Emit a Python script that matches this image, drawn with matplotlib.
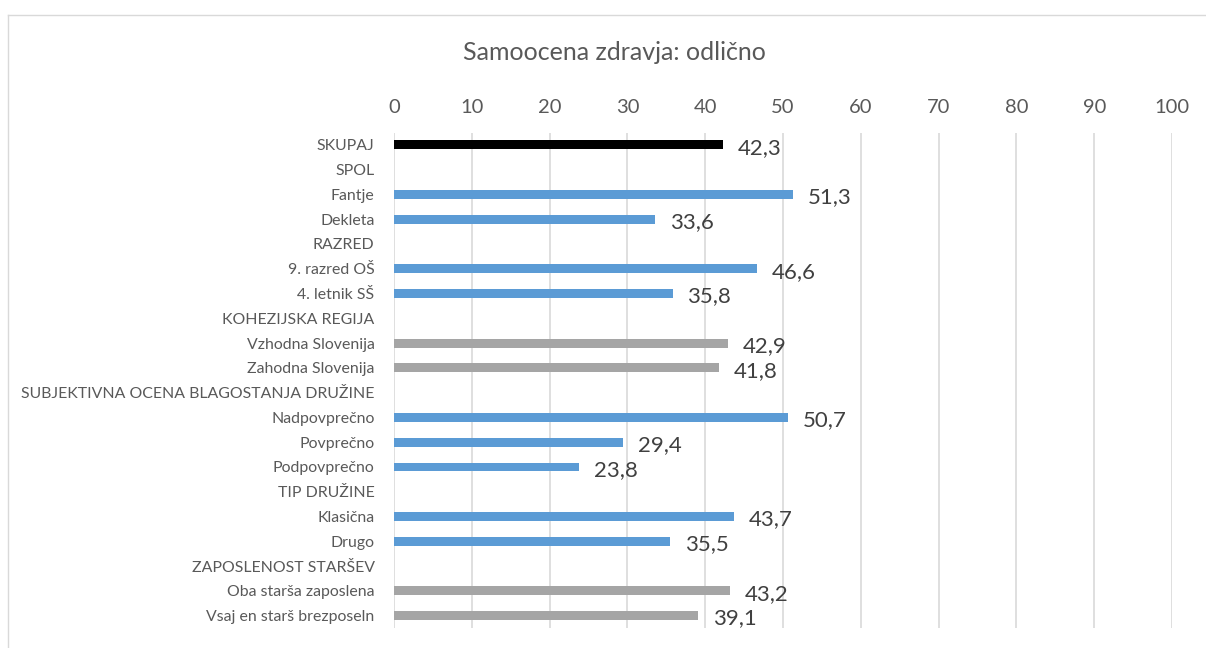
import matplotlib.pyplot as plt
from matplotlib.lines import Line2D

plt.rcParams['font.family'] = ['Lato', 'DejaVu Sans']

labels = ['SKUPAJ', 'SPOL', 'Fantje', 'Dekleta', 'RAZRED', '9. razred OŠ', '4. letnik SŠ',
          'KOHEZIJSKA REGIJA', 'Vzhodna Slovenija', 'Zahodna Slovenija',
          'SUBJEKTIVNA OCENA BLAGOSTANJA DRUŽINE', 'Nadpovprečno', 'Povprečno', 'Podpovprečno',
          'TIP DRUŽINE', 'Klasična', 'Drugo', 'ZAPOSLENOST STARŠEV',
          'Oba starša zaposlena', 'Vsaj en starš brezposeln']
values = [42.3, None, 51.3, 33.6, None, 46.6, 35.8, None, 42.9, 41.8,
          None, 50.7, 29.4, 23.8, None, 43.7, 35.5, None, 43.2, 39.1]
groups = ['total', None, 'blue', 'blue', None, 'blue', 'blue', None, 'gray', 'gray',
          None, 'blue', 'blue', 'blue', None, 'blue', 'blue', None, 'gray', 'gray']
palette = {'total': '#000000', 'blue': '#5B9BD5', 'gray': '#A5A5A5'}

txt = '#595959'

fig = plt.figure(figsize=(12.06, 6.48), dpi=100)
ax = fig.add_axes([394/1206, 1 - 628/648, (1172 - 394)/1206, (628 - 133)/648])

for i, (v, g) in enumerate(zip(values, groups)):
    if v is None:
        continue
    ax.barh(i, v, height=0.36, color=palette[g], zorder=3)
    ax.text(v + 1.9, i + 0.12, f'{v:.1f}'.replace('.', ','), va='center', ha='left',
            fontsize=16, color='#404040')

ax.set_xlim(0, 100)
ax.set_ylim(len(labels) - 0.5, -0.48)
ax.set_xticks(range(0, 101, 10))
ax.xaxis.tick_top()
ax.set_yticks(range(len(labels)))
ax.set_yticklabels(labels, fontsize=11.4, color=txt)
ax.tick_params(axis='x', labelsize=14.5, colors=txt, length=0, pad=12)
ax.tick_params(axis='y', length=0, pad=14)
ax.grid(axis='x', color='#D9D9D9', linewidth=1.2, zorder=0)
for s in ax.spines.values():
    s.set_visible(False)

fig.text(614/1206, 1 - 52/648, 'Samoocena zdravja: odlično', ha='center', va='center',
         fontsize=18, color=txt)

# chart area border
fig.add_artist(Line2D([8/1206, 8/1206], [0, 1 - 15/648], color='#D9D9D9', lw=1))
fig.add_artist(Line2D([8/1206, 1], [1 - 15/648, 1 - 15/648], color='#D9D9D9', lw=1))

fig.savefig('out.png', dpi=100)
